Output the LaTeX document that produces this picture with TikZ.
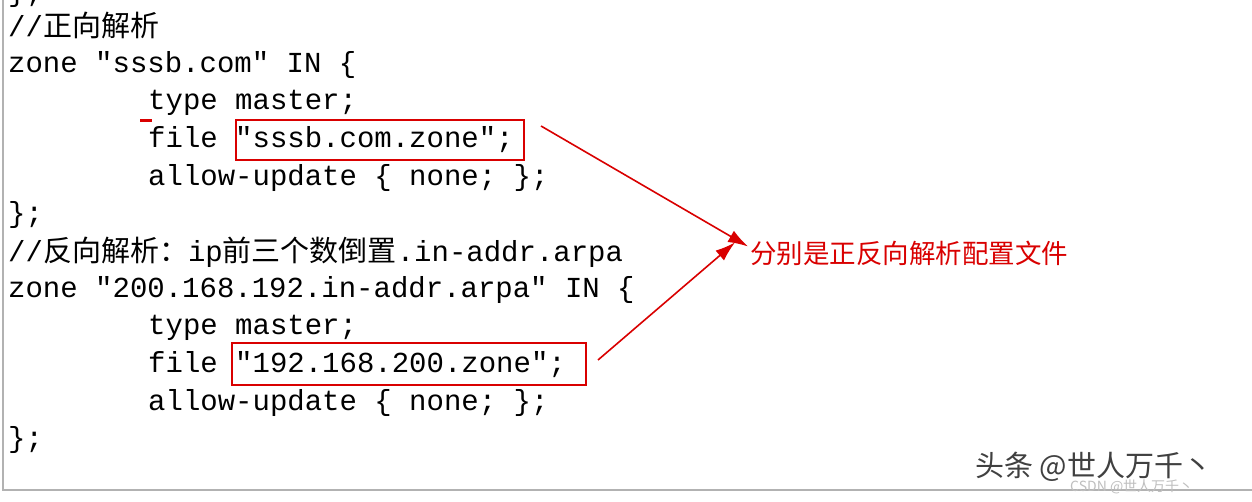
\documentclass[tikz,border=0pt]{standalone}
\usepackage{fontspec}
\setmonofont{Liberation Mono}
\newfontfamily\cjk{Noto Sans CJK SC}
\usetikzlibrary{positioning,arrows.meta}
\begin{document}
\begin{tikzpicture}[x=1pt, y=-1pt,
  every node/.style={inner sep=0pt, anchor=west},
  code/.style={font=\fontsize{29}{30}\selectfont\ttfamily},
  mark box/.style={draw=red!85!black, line width=2.2pt},
  pointer/.style={draw=red!85!black, line width=1.6pt, -{Latex[length=20pt,width=13pt]}}]
\useasboundingbox (0,0) rectangle (1252,502);
\fill[white] (0,0) rectangle (1252,502);
\draw[gray!60, line width=1.5pt] (3,0) -- (3,490) -- (1252,490);

  % Code lines
  \node[code] (l0) at (8,-6) {\};};
  \node[code] (l1) at (8,25) {//{\cjk 正向解析}};
  \node[code] (l2) at (8,65) {zone "sssb.com" IN \{};
  \node[code] (l3) at (148,103) {type master;};
  \node[code] (l4) at (148,140) {file "sssb.com.zone";};
  \node[code] (l5) at (148,178) {allow-update \{ none; \};};
  \node[code] (l6) at (8,215) {\};};
  \node[code] (l7) at (8,252) {//{\cjk 反向解析：}ip{\cjk 前三个数倒置}.in-addr.arpa};
  \node[code] (l8) at (8,290) {zone "200.168.192.in-addr.arpa" IN \{};
  \node[code] (l9) at (148,328) {type master;};
  \node[code] (l10) at (148,365) {file "192.168.200.zone";};
  \node[code] (l11) at (148,403) {allow-update \{ none; \};};
  \node[code] (l12) at (8,440) {\};};

  % Marks
  \draw[mark box] (236,120) rectangle (524,160);
  \draw[mark box] (232,343) rectangle (586,385);
  \draw[red!85!black, line width=3pt] (140,121) -- (152,121);
  \coordinate (from1) at (541,126);
  \coordinate (from2) at (598,360);
  \node[text=red!85!black, font=\cjk\fontsize{26.5}{27}\selectfont] (note) at (750,253) {分别是正反向解析配置文件};
  \draw[pointer] (from1) -- ([xshift=-2pt,yshift=-6pt]note.north west);
  \draw[pointer] (from2) -- ([xshift=-15pt,yshift=-2pt]note.north west);

  % Watermarks
  \node[text=black!75, font=\cjk\fontsize{29}{30}\selectfont] (brand) at (975,467) {头条 @世人万千丶};
  \node[text=black!25, font=\cjk\fontsize{14}{15}\selectfont] (csdn) at (1070,487) {CSDN @世人万千丶};
\end{tikzpicture}
\end{document}
